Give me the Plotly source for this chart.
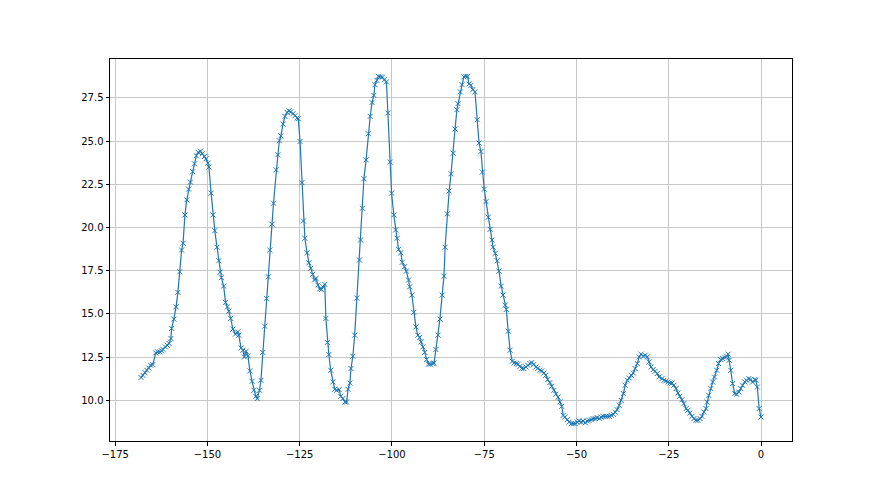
import plotly.graph_objects as go

x_vals = [
    -168.0, -167.5, -166.9, -166.4, -165.9, -165.4, -164.8, -164.0, -163.5, -162.9,
    -162.4, -162.1, -161.4, -160.9, -160.4, -159.9, -159.7, -159.1, -158.5, -158.0,
    -157.5, -157.0, -156.6, -156.1, -155.6, -155.1, -154.6, -154.0, -153.5, -153.0,
    -152.5, -151.9, -151.4, -150.8, -150.4, -149.9, -149.6, -149.0, -148.5, -148.0,
    -147.4, -146.9, -146.6, -146.2, -145.6, -145.1, -144.6, -144.2, -143.7, -143.1,
    -142.4, -141.8, -141.5, -140.9, -140.4, -140.0, -139.5, -139.0, -138.5, -137.9,
    -137.4, -136.9, -136.5, -135.9, -135.5, -135.0, -134.5, -134.0, -133.5, -133.1,
    -132.5, -132.1, -131.4, -130.9, -130.5, -130.1, -129.5, -129.0, -128.4, -127.9,
    -127.4, -126.8, -126.3, -125.7, -125.4, -124.9, -124.4, -124.0, -123.6, -123.0,
    -122.5, -122.0, -121.5, -121.0, -120.6, -120.1, -119.6, -119.1, -118.7, -118.2,
    -117.9, -117.5, -117.1, -116.6, -116.0, -115.5, -115.0, -114.3, -113.9, -113.3,
    -112.7, -112.3, -111.9, -111.4, -111.1, -110.6, -110.1, -109.5, -108.8, -108.5,
    -108.0, -107.6, -107.0, -106.4, -105.9, -105.4, -104.9, -104.6, -104.1, -103.7,
    -103.1, -102.6, -102.0, -101.5, -101.1, -100.5, -100.1, -99.5, -99.0, -98.6,
    -98.2, -97.6, -97.2, -96.6, -96.1, -95.5, -95.2, -94.6, -94.1, -93.5,
    -93.0, -92.5, -92.1, -91.6, -91.1, -90.6, -90.1, -89.6, -88.9, -88.6,
    -88.1, -87.5, -87.0, -86.4, -85.9, -85.6, -85.0, -84.5, -84.0, -83.4,
    -82.9, -82.4, -82.1, -81.5, -81.0, -80.5, -80.0, -79.5, -79.1, -78.6,
    -78.1, -77.5, -76.9, -76.4, -75.9, -75.5, -75.0, -74.5, -73.9, -73.4,
    -72.9, -72.6, -72.0, -71.5, -71.0, -70.4, -69.9, -69.3, -69.0, -68.5,
    -68.0, -67.4, -66.9, -66.3, -65.8, -65.3, -64.8, -64.3, -63.7, -63.2,
    -62.6, -62.1, -61.6, -61.0, -60.5, -59.9, -59.4, -58.8, -58.3, -57.8,
    -57.2, -56.7, -56.1, -55.6, -55.0, -54.5, -54.0, -53.6, -53.1, -52.5,
    -52.0, -51.4, -50.9, -50.4, -49.8, -49.3, -48.7, -48.2, -47.6, -47.1,
    -46.6, -46.0, -45.5, -44.9, -44.4, -43.8, -43.3, -42.8, -42.2, -41.7,
    -41.1, -40.6, -40.0, -39.5, -39.0, -38.4, -37.9, -37.3, -36.8, -36.2,
    -35.7, -35.2, -34.6, -34.1, -33.5, -33.0, -32.5, -31.9, -31.4, -30.8,
    -30.3, -29.8, -29.2, -28.7, -28.1, -27.6, -26.8, -26.3, -25.8, -25.2,
    -24.7, -24.1, -23.6, -23.0, -22.5, -22.0, -21.4, -20.9, -20.3, -19.8,
    -19.3, -18.7, -18.2, -17.6, -17.1, -16.5, -16.0, -15.5, -14.9, -14.6,
    -14.2, -13.6, -13.1, -12.6, -12.0, -11.5, -10.9, -10.4, -9.8, -9.3,
    -8.9, -8.6, -8.2, -7.7, -7.1, -6.6, -6.0, -5.5, -5.0, -4.4,
    -3.9, -3.3, -2.8, -2.3, -1.7, -1.4, -1.0, -0.5, 0.0,
]

y_vals = [
    11.32, 11.45, 11.60, 11.74, 11.87, 12.03, 12.07, 12.74, 12.80, 12.80,
    12.86, 12.96, 13.09, 13.19, 13.29, 13.58, 14.16, 14.70, 15.41, 16.25,
    17.44, 18.70, 19.09, 20.73, 21.60, 22.22, 22.63, 23.23, 23.69, 24.15,
    24.35, 24.42, 24.27, 24.11, 23.98, 23.73, 23.50, 21.99, 20.73, 19.82,
    18.86, 18.08, 17.41, 17.10, 16.61, 15.67, 15.41, 15.16, 14.74, 14.12,
    13.83, 13.96, 13.77, 13.03, 12.90, 12.51, 12.84, 12.57, 11.70, 11.10,
    10.58, 10.23, 10.10, 10.58, 11.16, 12.77, 14.29, 15.90, 17.15, 18.70,
    20.19, 21.41, 23.34, 24.21, 25.02, 25.31, 25.99, 26.43, 26.66, 26.76,
    26.70, 26.59, 26.47, 26.34, 26.30, 24.98, 22.60, 20.38, 19.38, 18.54,
    17.96, 17.64, 17.29, 16.96, 17.06, 16.67, 16.44, 16.42, 16.57, 16.71,
    14.74, 13.35, 12.65, 11.74, 11.06, 10.64, 10.58, 10.62, 10.23, 10.10,
    9.90, 9.90, 10.64, 11.00, 11.84, 12.55, 13.77, 15.92, 18.12, 19.28,
    21.12, 22.82, 23.92, 25.43, 26.43, 27.24, 27.65, 28.27, 28.52, 28.75,
    28.72, 28.70, 28.56, 28.43, 26.63, 23.79, 21.99, 20.73, 19.86, 19.38,
    18.74, 18.54, 17.99, 17.73, 17.48, 16.96, 16.57, 16.09, 15.09, 14.25,
    13.77, 13.64, 13.38, 13.09, 12.77, 12.36, 12.09, 12.09, 12.13, 12.16,
    12.94, 13.77, 14.70, 16.09, 17.19, 18.86, 20.79, 22.12, 23.11, 24.30,
    25.70, 26.82, 27.17, 27.85, 28.27, 28.72, 28.75, 28.75, 28.31, 28.23,
    27.98, 27.85, 26.24, 24.89, 24.40, 23.21, 22.22, 21.50, 20.60, 19.90,
    19.28, 18.86, 18.51, 18.08, 17.48, 16.61, 16.09, 15.51, 15.26, 14.00,
    12.90, 12.26, 12.16, 12.13, 12.09, 11.97, 11.84, 11.84, 11.93, 12.03,
    12.13, 12.19, 12.07, 11.93, 11.84, 11.74, 11.70, 11.58, 11.45, 11.20,
    11.03, 10.81, 10.58, 10.35, 10.19, 9.90, 9.65, 9.13, 9.03, 8.88,
    8.74, 8.65, 8.65, 8.65, 8.74, 8.80, 8.74, 8.80, 8.70, 8.80,
    8.84, 8.88, 8.94, 8.94, 9.00, 8.94, 9.03, 9.07, 9.07, 9.07,
    9.07, 9.13, 9.19, 9.32, 9.46, 9.71, 10.00, 10.39, 10.87, 11.16,
    11.29, 11.45, 11.58, 11.84, 12.13, 12.51, 12.67, 12.55, 12.61, 12.51,
    12.22, 11.93, 11.78, 11.68, 11.55, 11.35, 11.26, 11.16, 11.12, 11.06,
    11.00, 11.00, 10.87, 10.68, 10.42, 10.23, 10.04, 9.81, 9.52, 9.42,
    9.26, 9.07, 8.94, 8.84, 8.84, 8.94, 9.07, 9.32, 9.52, 9.90,
    10.29, 10.68, 11.06, 11.35, 11.74, 12.13, 12.36, 12.42, 12.48, 12.55,
    12.67, 12.32, 11.74, 10.97, 10.39, 10.35, 10.48, 10.68, 10.87, 11.06,
    11.16, 11.26, 11.20, 11.06, 11.20, 11.16, 10.77, 9.52, 9.03,
]

x_ticks = [-175, -150, -125, -100, -75, -50, -25, 0]
y_ticks = [10.0, 12.5, 15.0, 17.5, 20.0, 22.5, 25.0, 27.5]

fig = go.Figure()
fig.add_trace(go.Scatter(
    x=x_vals, y=y_vals, mode="lines+markers",
    line=dict(color="#1f77b4", width=1.2),
    marker=dict(symbol="x-thin", size=5, color="#1f77b4",
                line=dict(width=1, color="#1f77b4")),
    showlegend=False,
))

axis_common = dict(
    showline=True, linecolor="black", linewidth=1, mirror=True,
    ticks="outside", ticklen=3.5, tickwidth=0.8, tickcolor="black",
    showgrid=True, gridcolor="#c8c8c8", gridwidth=0.8,
    zeroline=False,
    tickfont=dict(family="DejaVu Sans", size=10, color="black"),
)

# page body has an 8px default margin, so the figure is offset by (8, 8)
fig.update_layout(
    width=880, height=495,
    margin=dict(l=102, r=96, t=51, b=62),
    paper_bgcolor="white", plot_bgcolor="white",
    xaxis=dict(range=[-176.4, 8.4], tickvals=x_ticks, **axis_common),
    yaxis=dict(range=[7.645, 29.755], tickvals=y_ticks, tickformat=".1f", **axis_common),
)

fig.write_html("out.html")
